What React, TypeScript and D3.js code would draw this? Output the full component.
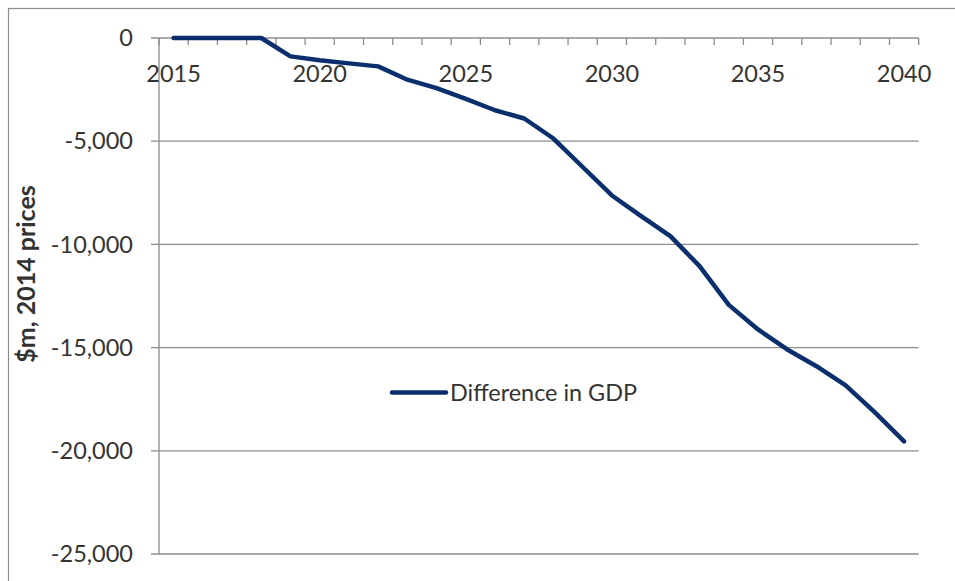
import { useMemo } from 'react'
import * as d3 from 'd3'

// Chart data
const years = d3.range(2015, 2041).map(String)
const gdpDiff = [
  0, 0, 0, 0, -890, -1080, -1230, -1375, -2020, -2430, -2950, -3500, -3900,
  -4870, -6250, -7630, -8630, -9600, -11050, -12930, -14120, -15090, -15900,
  -16830, -18140, -19540
]
const yTicks = [0, -5000, -10000, -15000, -20000, -25000]
const xLabelYears = ['2015', '2020', '2025', '2030', '2035', '2040']
const seriesName = 'Difference in GDP'
const yTitle = '$m, 2014 prices'

const W = 955
const H = 581
const FONT = 'Lato, "Open Sans", sans-serif'
const NAVY = '#0B2F6C'
const GRID = '#8C8C8C'
const TEXT = '#333333'

export default function App() {
  const margin = { top: 38, left: 159, right: 955 - 918.7, bottom: 581 - 554 }

  const x = useMemo(
    () => d3.scaleBand().domain(years).range([margin.left, W - margin.right]),
    []
  )
  const y = useMemo(
    () => d3.scaleLinear().domain([0, -25000]).range([margin.top, H - margin.bottom]),
    []
  )

  const line = d3
    .line<number>()
    .x((_, i) => (x(years[i]) as number) + x.bandwidth() / 2)
    .y(d => y(d))

  // plain hyphen instead of d3's unicode minus
  const fmt = (v: number) => d3.format(',')(v).replace('\u2212', '-')
  const x0 = margin.left
  const x1 = W - margin.right
  // category boundaries for tick marks
  const tickXs = years.map(yr => x(yr) as number).concat([x1])

  return (
    <svg
      width={W}
      height={H}
      style={{ position: 'absolute', left: 0, top: 0, background: '#fff' }}
      fontFamily={FONT}
    >
      {/* outer chart border */}
      <rect x={8.5} y={8.5} width={W + 20} height={H + 20} fill="none" stroke={GRID} strokeWidth={1.2} />

      {/* horizontal gridlines + y labels */}
      {yTicks.map(t => (
        <g key={t}>
          <line x1={x0 - 8} x2={x1} y1={y(t)} y2={y(t)} stroke={GRID} strokeWidth={1.3} />
          <text
            x={133}
            y={y(t)}
            dy="0.35em"
            textAnchor="end"
            fontSize={23.5}
            fill={TEXT}
          >
            {fmt(t)}
          </text>
        </g>
      ))}

      {/* y axis line */}
      <line x1={x0} x2={x0} y1={y(0)} y2={y(-25000)} stroke={GRID} strokeWidth={1.3} />

      {/* x tick marks */}
      {tickXs.map((tx, i) => (
        <line key={i} x1={tx} x2={tx} y1={y(0)} y2={y(0) + 7} stroke={GRID} strokeWidth={1.3} />
      ))}

      {/* x labels */}
      {xLabelYears.map(yr => (
        <text
          key={yr}
          x={(x(yr) as number) + x.bandwidth() / 2}
          y={74}
          dy="0.35em"
          textAnchor="middle"
          fontSize={23.5}
          fill={TEXT}
        >
          {yr}
        </text>
      ))}

      {/* series line */}
      <path
        d={line(gdpDiff) ?? ''}
        fill="none"
        stroke={NAVY}
        strokeWidth={4.5}
        strokeLinejoin="round"
        strokeLinecap="round"
      />

      {/* legend */}
      <line x1={392} x2={446} y1={392.5} y2={392.5} stroke={NAVY} strokeWidth={4.5} strokeLinecap="round" />
      <text x={450} y={392.5} dy="0.35em" fontSize={23.4} fill={TEXT}>
        {seriesName}
      </text>

      {/* y axis title */}
      <text
        transform="translate(26, 274) rotate(-90)"
        textAnchor="middle"
        dy="0.35em"
        fontSize={25}
        fontWeight="bold"
        fill={TEXT}
      >
        {yTitle}
      </text>
    </svg>
  )
}
